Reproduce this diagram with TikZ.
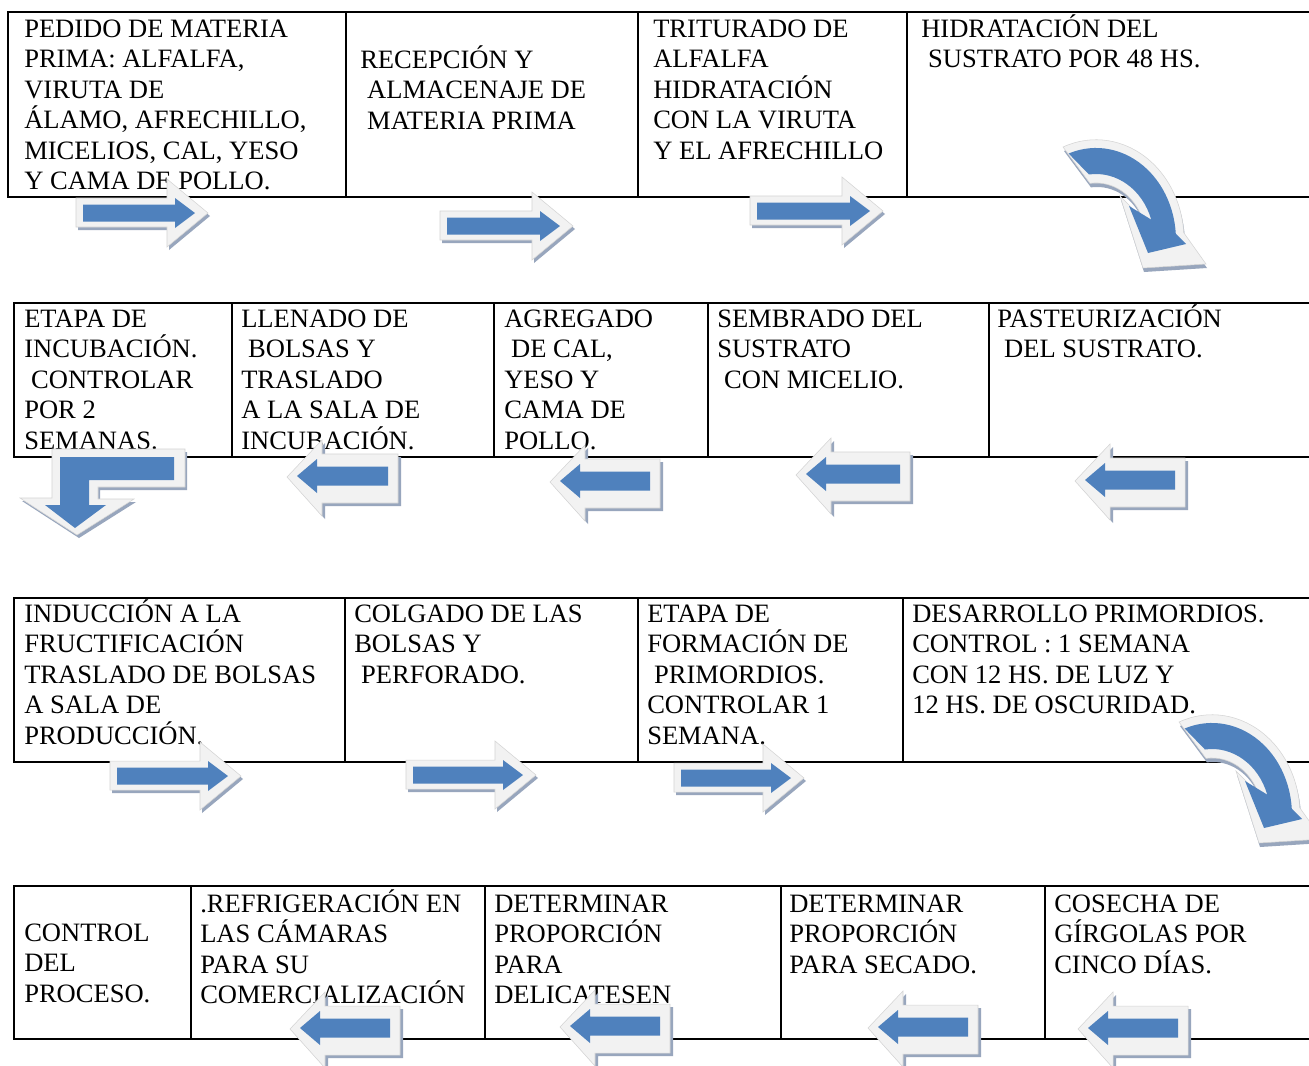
\documentclass[tikz,border=0pt]{standalone}
\usepackage{fontspec}
\setmainfont{Liberation Serif}
\definecolor{ablue}{HTML}{4F81BD}
\definecolor{aface}{HTML}{F2F2F2}
\definecolor{aedge}{HTML}{D4D4D4}
\definecolor{ashade}{HTML}{98A6BD}
\newcommand\cellfont{\fontsize{19.9pt}{22.9pt}\selectfont}
\newcommand\celltext[1]{\vtop{\baselineskip=22.9pt\lineskiplimit=-\maxdimen\lineskip=0pt #1}}
\newcommand\indt{\hspace*{0.26em}}
% right block arrow: x of shaft start, centre y, length
\newcommand\rarr[3]{%
\begin{scope}[shift={(#1,#2)}]
\fill[ashade,shift={(2,3)}] (-7,-15) -- (#3-28,-15) -- (#3-28,-34) -- (#3+13,0) -- (#3-28,34) -- (#3-28,14) -- (-7,14) -- cycle;
\filldraw[fill=aface,draw=aedge,line width=0.4pt] (-7,-15) -- (#3-28,-15) -- (#3-28,-34) -- (#3+13,0) -- (#3-28,34) -- (#3-28,14) -- (-7,14) -- cycle;
\fill[ablue] (0,-8.5) -- (#3-20,-8.5) -- (#3-20,-15) -- (#3,0) -- (#3-20,15) -- (#3-20,8.5) -- (0,8.5) -- cycle;
\end{scope}}
% left block arrow: x of tip, centre y, length
\newcommand\larr[3]{%
\begin{scope}[shift={(#1,#2)}]
\fill[ashade,shift={(3,3)}] (-10,1) -- (25,-36) -- (25,-22) -- (#3+10,-22) -- (#3+10,27) -- (25,27) -- (25,40) -- cycle;
\filldraw[fill=aface,draw=aedge,line width=0.4pt] (-10,1) -- (25,-36) -- (25,-22) -- (#3+10,-22) -- (#3+10,27) -- (25,27) -- (25,40) -- cycle;
\fill[ablue] (0,0) -- (20,-17) -- (20,-9.5) -- (#3,-9.5) -- (#3,9.5) -- (20,9.5) -- (20,17) -- cycle;
\end{scope}}
% curved arrow
\newcommand\carr[2]{%
\begin{scope}[shift={(#1,#2)}]
\fill[ashade,shift={(1,4)}] (1067,147) arc[start angle=-112, end angle=-4, x radius=88, y radius=100] -- (1210,264) -- (1147,268) -- (1124,196) -- (1146.4,218.6) arc[start angle=-22, end angle=-97, x radius=50, y radius=57] -- cycle;
\filldraw[fill=aface,draw=aedge,line width=0.4pt] (1067,147) arc[start angle=-112, end angle=-4, x radius=88, y radius=100] -- (1210,264) -- (1147,268) -- (1124,196) -- (1146.4,218.6) arc[start angle=-22, end angle=-97, x radius=50, y radius=57] -- cycle;
\fill[ablue] (1072.6,153.5) arc[start angle=-110, end angle=-4, x radius=80, y radius=92] -- (1190,244) -- (1152,253) -- (1133,206) -- (1155.2,219.6) arc[start angle=-18, end angle=-97, x radius=58, y radius=66] -- cycle;
\end{scope}}
\begin{document}
\begin{tikzpicture}[x=0.75pt,y=-0.75pt,
  tbl/.style={line width=1.5pt,black},
  txt/.style={anchor=base west,inner sep=0pt,font=\cellfont}]
\useasboundingbox (0,0) rectangle (1309,1065);
\clip (0,0) rectangle (1309,1065);
\fill[white] (0,0) rectangle (1309,1065);
% ---------- row 1
\draw[tbl] (1309,12) -- (8,12) -- (8,197) -- (1309,197);
\draw[tbl] (346,12) -- (346,197) (638,12) -- (638,197) (907,12) -- (907,197);
\node[txt] (r1a) at (24,37) {\celltext{\hbox{PEDIDO DE MATERIA}\hbox{PRIMA: ALFALFA,}\hbox{VIRUTA DE}\hbox{ÁLAMO, AFRECHILLO,}\hbox{MICELIOS, CAL, YESO}\hbox{Y CAMA DE POLLO.}}};
\node[txt] (r1b) at (360,68) {\celltext{\hbox{RECEPCIÓN Y}\hbox{\indt ALMACENAJE DE}\hbox{\indt MATERIA PRIMA}}};
\node[txt] (r1c) at (653,37) {\celltext{\hbox{TRITURADO DE}\hbox{ALFALFA}\hbox{HIDRATACIÓN}\hbox{CON LA VIRUTA}\hbox{Y EL AFRECHILLO}}};
\node[txt] (r1d) at (921,37) {\celltext{\hbox{HIDRATACIÓN DEL}\hbox{\indt SUSTRATO POR 48 HS.}}};
% ---------- row 2
\draw[tbl] (1309,303) -- (14,303) -- (14,457) -- (1309,457);
\draw[tbl] (232,303) -- (232,457) (494,303) -- (494,457) (708,303) -- (708,457) (989,303) -- (989,457);
\node[txt] (r2a) at (24,327) {\celltext{\hbox{ETAPA DE}\hbox{INCUBACIÓN.}\hbox{\indt CONTROLAR}\hbox{POR 2}\hbox{SEMANAS.}}};
\node[txt] (r2b) at (241,327) {\celltext{\hbox{LLENADO DE}\hbox{\indt BOLSAS Y}\hbox{TRASLADO}\hbox{A LA SALA DE}\hbox{INCUBACIÓN.}}};
\node[txt] (r2c) at (504,327) {\celltext{\hbox{AGREGADO}\hbox{\indt DE CAL,}\hbox{YESO Y}\hbox{CAMA DE}\hbox{POLLO.}}};
\node[txt] (r2d) at (717,327) {\celltext{\hbox{SEMBRADO DEL}\hbox{SUSTRATO}\hbox{\indt CON MICELIO.}}};
\node[txt] (r2e) at (997,327) {\celltext{\hbox{PASTEURIZACIÓN}\hbox{\indt DEL SUSTRATO.}}};
% ---------- row 3
\draw[tbl] (1309,598) -- (14,598) -- (14,762) -- (1309,762);
\draw[tbl] (345,598) -- (345,762) (638,598) -- (638,762) (903,598) -- (903,762);
\node[txt] (r3a) at (24,622) {\celltext{\hbox{INDUCCIÓN A LA}\hbox{FRUCTIFICACIÓN}\hbox{TRASLADO DE BOLSAS}\hbox{A SALA DE}\hbox{PRODUCCIÓN.}}};
\node[txt] (r3b) at (354,622) {\celltext{\hbox{COLGADO DE LAS}\hbox{BOLSAS Y}\hbox{\indt PERFORADO.}}};
\node[txt] (r3c) at (647,622) {\celltext{\hbox{ETAPA DE}\hbox{FORMACIÓN DE}\hbox{\indt PRIMORDIOS.}\hbox{CONTROLAR 1}\hbox{SEMANA.}}};
\node[txt] (r3d) at (912,622) {\celltext{\hbox{DESARROLLO PRIMORDIOS.}\hbox{CONTROL : 1 SEMANA}\hbox{CON 12 HS. DE LUZ Y}\hbox{12 HS. DE OSCURIDAD.}}};
% ---------- row 4
\draw[tbl] (1309,886) -- (14,886) -- (14,1039) -- (1309,1039);
\draw[tbl] (191,886) -- (191,1039) (485,886) -- (485,1039) (781,886) -- (781,1039) (1045,886) -- (1045,1039);
\node[txt] (r4a) at (24,941) {\celltext{\hbox{CONTROL}\hbox{DEL}\hbox{PROCESO.}}};
\node[txt] (r4b) at (200,912) {\celltext{\hbox{.REFRIGERACIÓN EN}\hbox{LAS CÁMARAS}\hbox{PARA SU}\hbox{COMERCIALIZACIÓN}}};
\node[txt] (r4c) at (494,912) {\celltext{\hbox{DETERMINAR}\hbox{PROPORCIÓN}\hbox{PARA}\hbox{DELICATESEN}}};
\node[txt] (r4d) at (789,912) {\celltext{\hbox{DETERMINAR}\hbox{PROPORCIÓN}\hbox{PARA SECADO.}}};
\node[txt] (r4e) at (1054,912) {\celltext{\hbox{COSECHA DE}\hbox{GÍRGOLAS POR}\hbox{CINCO DÍAS.}}};
% ---------- arrows
\rarr{83}{213}{112}
\rarr{447}{226}{113}
\rarr{757}{211}{113}
\carr{-4}{0}
\larr{1085}{480}{90}
\larr{806}{474}{94}
\larr{560}{481}{90}
\larr{297}{476}{91}
% bent arrow
\fill[ashade,shift={(2,3)}] (185,449) -- (52,449) -- (52,498) -- (20,498) -- (77,535) -- (134,499) -- (98,499) -- (98,487) -- (185,487) -- cycle;
\filldraw[fill=aface,draw=aedge,line width=0.4pt] (185,449) -- (52,449) -- (52,498) -- (20,498) -- (77,535) -- (134,499) -- (98,499) -- (98,487) -- (185,487) -- cycle;
\fill[ablue] (174,457) -- (60,457) -- (60,505) -- (45,505) -- (75,528) -- (106,505) -- (89,505) -- (89,480) -- (174,480) -- cycle;
\rarr{117}{776}{111}
\rarr{413}{775}{110}
\rarr{681}{778}{110}
\carr{112}{575}
\larr{1088}{1028}{90}
\larr{878}{1027}{90}
\larr{570}{1026}{90}
\larr{300}{1028}{90}
\end{tikzpicture}
\end{document}
